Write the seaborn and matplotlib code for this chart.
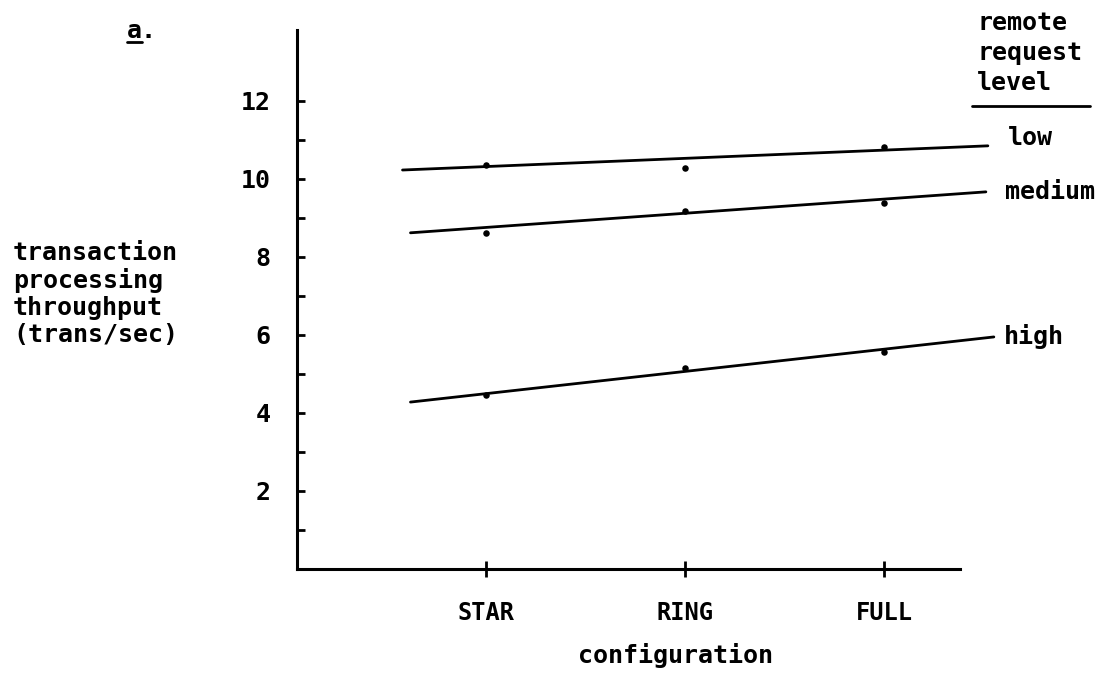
import matplotlib
matplotlib.use("Agg")
import matplotlib.pyplot as plt
from matplotlib.lines import Line2D
import seaborn as sns
import pandas as pd

# ---- data ----
configs = ["STAR", "RING", "FULL"]
levels = ["low", "medium", "high"]
low_vals = [10.36, 10.28, 10.82]
medium_vals = [8.62, 9.18, 9.38]
high_vals = [4.46, 5.15, 5.56]

# hand-drawn trend lines: (start, end) per level
line_x_start = [-0.42, -0.38, -0.38]
line_x_end = [2.52, 2.51, 2.55]
line_y_start = [10.23, 8.62, 4.28]
line_y_end = [10.85, 9.67, 5.95]

y_ticks = list(range(1, 13))
y_tick_labels = [str(v) if v % 2 == 0 else "" for v in y_ticks]

# ---- build tables ----
pts = pd.DataFrame({
    "x": list(range(len(configs))) * 3,
    "value": low_vals + medium_vals + high_vals,
    "level": [lv for lv in levels for _ in configs],
})
lines = pd.DataFrame({
    "x": [v for pair in zip(line_x_start, line_x_end) for v in pair],
    "y": [v for pair in zip(line_y_start, line_y_end) for v in pair],
    "level": [lv for lv in levels for _ in range(2)],
})

sns.set_theme(style="white")
plt.rcParams["font.family"] = ["DejaVu Sans Mono", "DejaVu Sans"]
plt.rcParams["font.weight"] = "bold"
plt.rcParams["text.color"] = "black"
plt.rcParams["axes.labelcolor"] = "black"
plt.rcParams["xtick.color"] = "black"
plt.rcParams["ytick.color"] = "black"

W, H = 1111, 677
fig = plt.figure(figsize=(W / 100, H / 100), dpi=100)
fig.patch.set_facecolor("white")
ax = fig.add_axes([297 / W, 1 - 569 / H, 663 / W, 539 / H])
ax.set_facecolor("white")

sns.lineplot(data=lines, x="x", y="y", units="level", estimator=None,
             color="black", linewidth=2.0, ax=ax, legend=False)
for ln in ax.lines:
    ln.set_clip_on(False)
sns.scatterplot(data=pts, x="x", y="value", color="black", s=22,
                edgecolor="black", linewidth=0, ax=ax, legend=False, clip_on=False)

ax.set_xlim(-0.95, 2.38)
ax.set_ylim(0, 13.82)
ax.set_xticks(range(len(configs)))
ax.set_xticklabels(configs, fontsize=17, fontweight="bold", color="black")
ax.set_yticks(y_ticks)
ax.set_yticklabels(y_tick_labels, fontsize=18, fontweight="bold", color="black")
ax.set_xlabel("")
ax.set_ylabel("")
for s in ["top", "right"]:
    ax.spines[s].set_visible(False)
for s in ["left", "bottom"]:
    ax.spines[s].set_linewidth(2.2)
    ax.spines[s].set_color("black")
ax.tick_params(axis="y", which="both", left=True, direction="in", length=6,
               width=2, pad=19, colors="black")
ax.tick_params(axis="x", which="both", bottom=True, direction="inout",
               length=12, width=2, pad=17, colors="black")
ax.grid(False)

# series labels at line ends
offsets = [(20, 8), (19, 0), (10, 0)]
for lv, xe, ye, off in zip(levels, line_x_end, line_y_end, offsets):
    ax.annotate(lv, xy=(xe, ye), xytext=off, textcoords="offset pixels",
                ha="left", va="center", fontsize=18, fontweight="bold",
                color="black", annotation_clip=False)


def px(x, y):
    return x / W, 1 - y / H


fig.text(*px(13, 294), "transaction\nprocessing\nthroughput\n(trans/sec)",
         ha="left", va="center", fontsize=18, fontweight="bold",
         linespacing=1.15, color="black")
fig.text(*px(675, 655), "configuration", ha="center", va="center",
         fontsize=18, fontweight="bold", color="black")
fig.text(*px(977, 53), "remote\nrequest\nlevel", ha="left", va="center",
         fontsize=18, fontweight="bold", linespacing=1.3, color="black")
fig.add_artist(Line2D([972 / W, 1090 / W], [1 - 106 / H, 1 - 106 / H],
                      color="black", linewidth=2, transform=fig.transFigure))
fig.text(*px(127, 31), "a.", ha="left", va="center", fontsize=18,
         fontweight="bold", color="black")
fig.add_artist(Line2D([127 / W, 142 / W], [1 - 42 / H, 1 - 42 / H],
                      color="black", linewidth=2, transform=fig.transFigure))

fig.savefig("out.png", dpi=100, facecolor="white")
